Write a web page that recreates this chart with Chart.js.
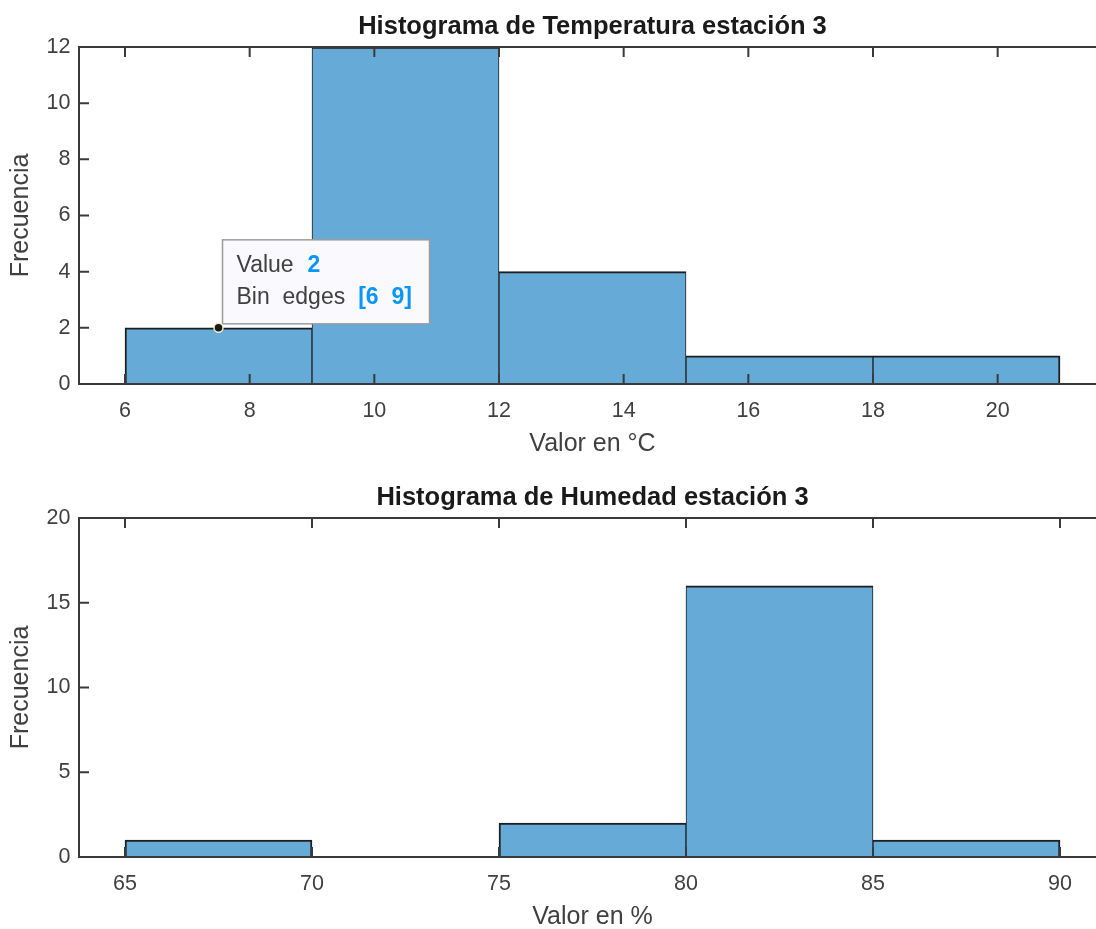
<!DOCTYPE html>
<html><head><meta charset="utf-8">
<script src="https://cdn.jsdelivr.net/npm/chart.js@4.4.1/dist/chart.umd.min.js"></script>
<style>
html,body{margin:0;padding:0;background:#fff;overflow:hidden;width:1096px;height:929px;}
.wrap{position:absolute;left:0;width:1096px;height:470px;overflow:hidden;}
.wrap canvas{position:absolute;left:0;top:0;}
</style></head><body>
<div class="wrap" style="top:0"><canvas id="c1" width="1120" height="470"></canvas></div>
<div class="wrap" style="top:471px;height:458px"><canvas id="c2" width="1120" height="470"></canvas></div>
<script>
// ---- data ----
const tempEdges = [6, 9, 12, 15, 18, 21];
const tempCounts = [2, 12, 4, 1, 1];
const tempXTicks = [6, 8, 10, 12, 14, 16, 18, 20];
const tempYTicks = [0, 2, 4, 6, 8, 10, 12];
const tempXLim = [5.262, 21.738];

const humEdges = [65, 70, 75, 80, 85, 90];
const humCounts = [1, 0, 2, 16, 1];
const humXTicks = [65, 70, 75, 80, 85, 90];
const humYTicks = [0, 5, 10, 15, 20];
const humXLim = [63.77, 91.23];

const tempTitle = 'Histograma de Temperatura estación 3';
const humTitle = 'Histograma de Humedad estación 3';
const tempXLabel = 'Valor en °C';
const humXLabel = 'Valor en %';
const yLabel = 'Frecuencia';
const tipBinIndex = 0;

// ---- style ----
const FONT = "'Liberation Sans', Arial, Helvetica, sans-serif";
const AXIS_COLOR = '#3a3a3a';
const TEXT_COLOR = '#404040';
const BAR_FILL = '#66aad7';
const BAR_EDGE = '#1e1e1e';
const TIP_BLUE = '#0a96f8';

Chart.defaults.font.family = FONT;
Chart.defaults.color = TEXT_COLOR;

const boxPlugin = {
  id: 'matlabBox',
  afterDraw(chart) {
    const {ctx, chartArea: {left, right, top, bottom}} = chart;
    const x = chart.scales.x, y = chart.scales.y;
    ctx.save();
    ctx.strokeStyle = AXIS_COLOR;
    ctx.lineWidth = 2;
    ctx.beginPath();
    x.ticks.forEach((t, i) => {
      const px = x.getPixelForTick(i);
      ctx.moveTo(px, bottom); ctx.lineTo(px, bottom - 10);
      ctx.moveTo(px, top); ctx.lineTo(px, top + 10);
    });
    y.ticks.forEach((t, i) => {
      const py = y.getPixelForTick(i);
      ctx.moveTo(left, py); ctx.lineTo(left + 10, py);
      ctx.moveTo(right, py); ctx.lineTo(right - 10, py);
    });
    ctx.stroke();
    ctx.strokeRect(left, top, right - left, bottom - top);
    ctx.restore();
  }
};

const tipPlugin = {
  id: 'dataTip',
  afterDraw(chart, args, opts) {
    if (!opts || !opts.enabled) return;
    const {ctx} = chart;
    const xb = chart.scales.xb, y = chart.scales.y;
    const edges = opts.edges, counts = opts.counts, i = opts.index;
    const cx = xb.getPixelForValue((edges[i] + edges[i + 1]) / 2);
    const cy = y.getPixelForValue(counts[i]);
    const bx = cx + 4, by = cy - 88, bw = 207, bh = 84;
    ctx.save();
    ctx.fillStyle = '#f9f9fe';
    ctx.strokeStyle = '#9c9c9c';
    ctx.lineWidth = 1.5;
    ctx.fillRect(bx, by, bw, bh);
    ctx.strokeRect(bx, by, bw, bh);
    ctx.textBaseline = 'middle';
    ctx.textAlign = 'left';
    const fN = "23px " + FONT, fB = "bold 23px " + FONT;
    ctx.font = fN; ctx.fillStyle = TEXT_COLOR;
    const l1 = 'Value', l2 = 'Bin  edges';
    ctx.fillText(l1, bx + 14, by + 26);
    const w1 = ctx.measureText(l1).width;
    ctx.fillText(l2, bx + 14, by + 58);
    const w2 = ctx.measureText(l2).width;
    ctx.font = fB; ctx.fillStyle = TIP_BLUE;
    ctx.fillText(String(counts[i]), bx + 14 + w1 + 14, by + 26);
    ctx.fillText('[' + edges[i] + '  ' + edges[i + 1] + ']', bx + 14 + w2 + 13, by + 58);
    // marker
    ctx.beginPath();
    ctx.arc(cx, cy, 4.5, 0, Math.PI * 2);
    ctx.fillStyle = '#1a1a1a';
    ctx.fill();
    ctx.strokeStyle = '#f2eec4';
    ctx.lineWidth = 1.5;
    ctx.stroke();
    ctx.restore();
  }
};

function makeHist(canvasId, edges, counts, xTicks, yTicks, xLim, title, xLabel, areaBottom, tip) {
  const centers = counts.map((c, i) => (edges[i] + edges[i + 1]) / 2);
  const data = counts.map((c, i) => ({x: centers[i], y: c}));
  const H = 470;
  return new Chart(document.getElementById(canvasId), {
    type: 'bar',
    data: {
      datasets: [{
        data: data,
        xAxisID: 'xb',
        yAxisID: 'y',
        backgroundColor: BAR_FILL,
        borderColor: BAR_EDGE,
        borderSkipped: false,
        borderWidth: (c) => {
          const d = c.dataset.data, i = c.dataIndex;
          const prev = i > 0 ? d[i - 1].y : 0;
          const next = i < d.length - 1 ? d[i + 1].y : 0;
          return {top: 2, bottom: 0, left: prev > 0 ? 1 : 2, right: next > 0 ? 1 : 2};
        },
        barPercentage: 1,
        categoryPercentage: 1
      }]
    },
    options: {
      responsive: false,
      animation: false,
      devicePixelRatio: 1,
      events: [],
      layout: {padding: {top: 0, left: 0, right: 14, bottom: 0}},
      plugins: {
        legend: {display: false},
        tooltip: {enabled: false},
        title: {
          display: true, text: title, fullSize: false,
          color: '#1a1a1a',
          font: {size: 25.5, weight: 'bold', lineHeight: 1.2, family: FONT},
          padding: {top: 11.5, bottom: 47 - 30.6 - 11.5}
        },
        dataTip: tip
      },
      scales: {
        x: {
          type: 'linear', position: 'bottom', offset: false,
          min: xLim[0], max: xLim[1],
          afterBuildTicks: (s) => { s.ticks = xTicks.map(v => ({value: v})); },
          afterFit: (s) => { s.height = H - areaBottom; },
          grid: {display: false, drawTicks: false, offset: false},
          border: {display: false},
          ticks: {padding: 14, font: {size: 21.5, lineHeight: 1.2}, color: TEXT_COLOR, maxRotation: 0, autoSkip: false},
          title: {display: true, text: xLabel, color: TEXT_COLOR, font: {size: 25, lineHeight: 1.2},
                  padding: {top: 0, bottom: H - (areaBottom + 60) - 15}}
        },
        xb: {
          type: 'linear', display: false, offset: false,
          min: xLim[0], max: xLim[1],
          afterBuildTicks: (s) => { s.ticks = []; }
        },
        y: {
          type: 'linear', position: 'left',
          min: yTicks[0], max: yTicks[yTicks.length - 1],
          afterBuildTicks: (s) => { s.ticks = yTicks.map(v => ({value: v})); },
          afterFit: (s) => { s.width = 79; },
          grid: {display: false, drawTicks: false},
          border: {display: false},
          ticks: {padding: 8.5, font: {size: 21.5, lineHeight: 1.2}, color: TEXT_COLOR},
          title: {display: true, text: yLabel, color: TEXT_COLOR, font: {size: 25, lineHeight: 1.2},
                  padding: {top: 6, bottom: 0}}
        }
      }
    },
    plugins: [boxPlugin, tipPlugin]
  });
}

makeHist('c1', tempEdges, tempCounts, tempXTicks, tempYTicks, tempXLim, tempTitle, tempXLabel, 384,
         {enabled: true, edges: tempEdges, counts: tempCounts, index: tipBinIndex});
makeHist('c2', humEdges, humCounts, humXTicks, humYTicks, humXLim, humTitle, humXLabel, 386,
         {enabled: false});
</script>
</body></html>
